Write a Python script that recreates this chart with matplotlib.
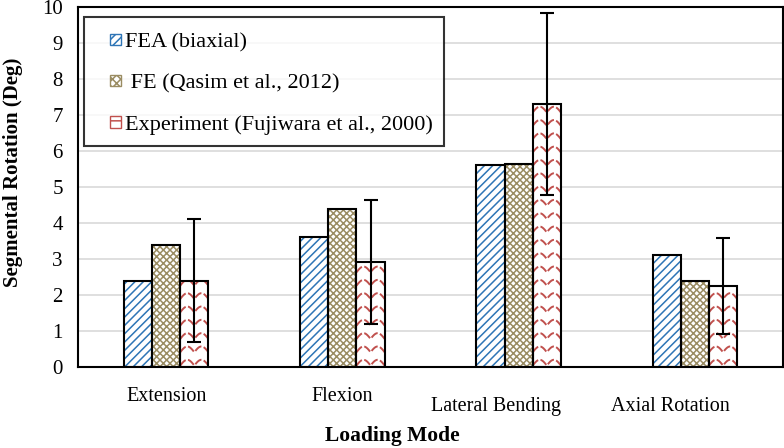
import numpy as np
import matplotlib
matplotlib.use("Agg")
import matplotlib.pyplot as plt
from matplotlib.patches import Patch, Rectangle
from matplotlib.legend_handler import HandlerPatch

categories = ["Extension", "Flexion", "Lateral Bending", "Axial Rotation"]
fea_biaxial = [2.40, 3.60, 5.60, 3.10]
fe_qasim = [3.39, 4.38, 5.65, 2.39]
exp_fujiwara = [2.40, 2.92, 7.31, 2.25]
exp_err = [1.70, 1.72, 2.53, 1.33]
series_labels = ["FEA (biaxial)", " FE (Qasim et al., 2012)", "Experiment (Fujiwara et al., 2000)"]
yticks = list(range(0, 11))

plt.rcParams['font.family'] = ['Liberation Serif', 'DejaVu Serif']
plt.rcParams['hatch.linewidth'] = 1.1

fig = plt.figure(figsize=(7.84, 4.48), dpi=100)
ax = fig.add_axes([0.0995, 0.1808, 0.8992, 0.8036])

x = np.arange(len(categories))
w = 0.16
blue = "#2e75b6"
olive = "#9a8c62"
red = "#c0504d"

# blue hatched bars
ax.bar(x - w, fea_biaxial, w, color="white", edgecolor=blue, hatch="////", linewidth=0, zorder=2)
ax.bar(x - w, fea_biaxial, w, fill=False, edgecolor="black", linewidth=1.5, zorder=3)
# olive checker bars
ax.bar(x, fe_qasim, w, color="white", edgecolor=olive, hatch="xxxxx", linewidth=0, zorder=2)
ax.bar(x, fe_qasim, w, fill=False, edgecolor="black", linewidth=1.5, zorder=3)
# red wavy bars
red_bars = ax.bar(x + w, exp_fujiwara, w, color="white", linewidth=0, zorder=2)
for b in red_bars:
    x0 = b.get_x()
    bw = b.get_width()
    h = b.get_height()
    xs = np.linspace(x0, x0 + bw, 80)
    for k in np.arange(0.12, h + 0.4, 0.37):
        ys = k + 0.16 * np.abs(np.sin((xs - x0) / bw * np.pi * 2.0)) - 0.08
        ln, = ax.plot(xs, ys, color=red, lw=1.4, ls=(0, (4.0, 1.2)), zorder=2.5)
        ln.set_clip_path(b)
ax.bar(x + w, exp_fujiwara, w, fill=False, edgecolor="black", linewidth=1.5, zorder=3)
ax.errorbar(x + w, exp_fujiwara, yerr=exp_err, fmt="none", ecolor="black",
            elinewidth=1.5, capsize=5, capthick=1.5, zorder=4)

ax.set_xlim(-0.5, 3.5)
ax.set_ylim(0, 10)
ax.set_yticks(yticks)
ax.set_yticklabels([str(t) for t in yticks], fontsize=15)
ax.yaxis.grid(True, color="#d9d9d9", linewidth=1.2, zorder=0)
ax.set_axisbelow(True)
ax.tick_params(axis="both", length=0, pad=11)
ax.set_xticks(x)
ax.set_xticklabels([])
for s in ax.spines.values():
    s.set_linewidth(1.5)
    s.set_color("black")

# category labels (staggered as in reference)
dx = [0.0, 0.0, -0.13, -0.14]
dy = [-29, -29, -39, -39]
for i, c in enumerate(categories):
    ax.annotate(c, xy=(x[i] + dx[i], 0), xycoords=('data', 'axes fraction'),
                xytext=(0, dy[i]), textcoords='offset pixels',
                ha='center', va='center', fontsize=14.5)

fig.text(0.5, 1 - 436 / 448, "Loading Mode", ha='center', va='center',
         fontsize=15.5, fontweight='bold')
fig.text(13 / 784, 1 - 172 / 448, "Segmental Rotation (Deg)", rotation=90,
         ha='center', va='center', fontsize=15, fontweight='bold')


def small_square(legend, orig_handle, xdescent, ydescent, width, height, fontsize):
    side = 0.5 * fontsize
    return Rectangle((-xdescent + width - side, -ydescent + (height - side) / 2), side, side)


handles = [
    Patch(facecolor="white", edgecolor=blue, hatch="////"),
    Patch(facecolor="white", edgecolor=olive, hatch="xxxx"),
    Patch(facecolor="white", edgecolor=red, hatch="--"),
]
leg = ax.legend(handles, series_labels, loc="upper left", bbox_to_anchor=(0.008, 0.972),
                fontsize=16, frameon=True, fancybox=False, labelspacing=0.78,
                handlelength=1.2, handleheight=1.2, handletextpad=0.15,
                borderpad=0.5, borderaxespad=0,
                handler_map={Patch: HandlerPatch(patch_func=small_square)})
leg.get_frame().set_edgecolor("black")
leg.get_frame().set_linewidth(1.5)
for hp in leg.legend_handles:
    hp.set_linewidth(1.0)

fig.savefig("out.png", dpi=100)
